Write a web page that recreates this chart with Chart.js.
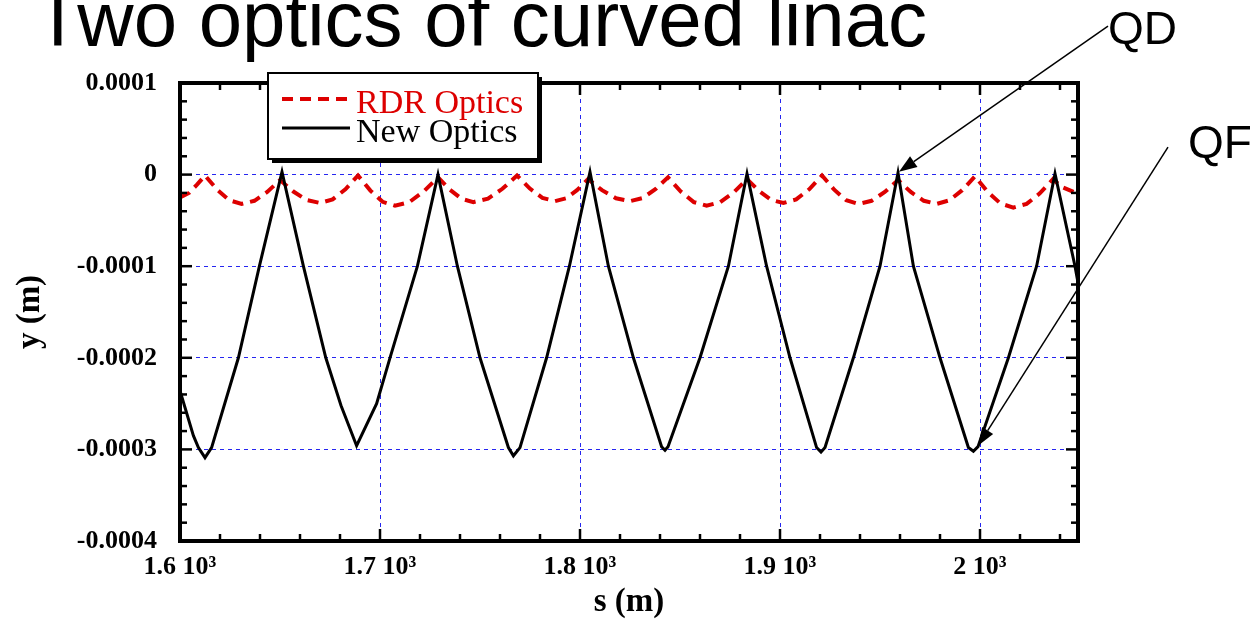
<!DOCTYPE html>
<html>
<head>
<meta charset="utf-8">
<script src="https://cdn.jsdelivr.net/npm/chart.js@4.4.1/dist/chart.umd.min.js"></script>
<style>
html,body{margin:0;padding:0;background:#fff}
#wrap{width:1260px;height:621px;position:relative}
</style>
</head>
<body>
<div id="wrap"><canvas id="chart"></canvas></div>
<script>
// s in metres, y in micrometres (axis labelled in metres)
const newS = [1600, 1606.7, 1609.2, 1612.5, 1615.8, 1629.2, 1639.7, 1651,
  1661.7, 1672.9, 1680.5, 1688.3,
  1698.3, 1705, 1718.7, 1729,
  1738.7, 1750, 1764.2, 1766.7,
  1770, 1783.3, 1794.7, 1805,
  1814.2, 1826.7, 1840.8, 1842.5,
  1844, 1860, 1874.2, 1883.5,
  1893.3, 1905, 1918.3, 1920.5,
  1922.5, 1936.7, 1950, 1959,
  1966.7, 1980, 1994.2, 1996.7,
  1999, 2014.2, 2028.3, 2037.5,
  2047.5, 2049]
const newY = [-236, -285, -298, -309, -298, -200, -100, 3,
  -100, -200, -252, -296,
  -250, -200, -100, 0,
  -100, -200, -298, -307,
  -298, -200, -100, 3,
  -100, -200, -297, -301,
  -297, -200, -100, 1,
  -100, -200, -298, -303,
  -298, -200, -100, 2,
  -100, -200, -298, -302,
  -297, -200, -100, 1,
  -100, -118]

const rdrS = [1600, 1604.5, 1608.5, 1612.5, 1618.6, 1624.7, 1630.8, 1637.2, 1643.6, 1650,
  1656.7, 1663.3, 1670, 1676.3, 1682.7, 1689, 1695.2, 1701.3, 1707.5, 1714.7, 1721.8, 1729,
  1734.9, 1740.8, 1746.7, 1754, 1761.2, 1768.5, 1774.8, 1781.2, 1787.5, 1793, 1798.5, 1804,
  1811, 1818, 1825, 1831.3, 1837.7, 1844, 1850.4, 1856.9, 1863.3, 1870, 1876.8, 1883.5,
  1889.6, 1895.6, 1901.7, 1908.1, 1914.6, 1921, 1927.1, 1933.1, 1939.2, 1945.8, 1952.4, 1959,
  1965.4, 1971.9, 1978.3, 1984.7, 1991.1, 1997.5, 2003.9, 2010.3, 2016.7, 2023.3, 2029.9, 2036.5,
  2040.5, 2049]
const rdrY = [-25, -20, -11, -1, -16.5, -28, -32, -28.6, -19, -6,
  -18.5, -27.8, -31, -27.1, -16, -1, -17.5, -29.7, -34, -30, -18.5, -3,
  -16.5, -26.5, -30, -26.2, -15.5, -1, -15, -25.4, -29, -25.9, -17, -5,
  -17, -25.9, -29, -25.6, -16, -3, -18.5, -30, -34, -30.2, -19.5, -5,
  -18, -27.6, -31, -27.1, -16, -1, -16.5, -28, -32, -28.6, -19, -6,
  -19, -28.6, -32, -28.1, -17, -2, -19, -31.6, -36, -32, -20.5, -5,
  -13, -21]

const xTickVals = [1600, 1700, 1800, 1900, 2000]
const xTickLabels = ['1.6 10³', '1.7 10³', '1.8 10³', '1.9 10³', '2 10³']
const yTickVals = [100, 0, -100, -200, -300, -400]
const yTickLabels = ['0.0001', '0', '-0.0001', '-0.0002', '-0.0003', '-0.0004']

const seriesNames = ['RDR Optics', 'New Optics']
const titleText = 'Two optics of curved linac'

// arrows, in data units (s, micrometres)
const notes = [
  {text: 'QD', tail: [2064, 162], tip: [1959.5, 3], label: [2064, 143]},
  {text: 'QF', tail: [2094, 30], tip: [1999, -296], label: [2104, 18]}
]

const pts = (xs, ys) => xs.map((s, i) => ({x: s, y: ys[i]}))
const serif = '"Liberation Serif", "Times New Roman", serif'

const deco = {
  id: 'deco',
  beforeDraw(chart) {
    const ctx = chart.ctx
    ctx.save()
    ctx.fillStyle = '#fff'
    ctx.fillRect(0, 0, chart.width, chart.height)
    ctx.restore()
  },
  afterDatasetsDraw(chart) {
    const {ctx, chartArea: a, scales: {x, y}} = chart
    const seg = (x1, y1, x2, y2) => { ctx.beginPath(); ctx.moveTo(x1, y1); ctx.lineTo(x2, y2); ctx.stroke() }
    ctx.save()
    ctx.strokeStyle = '#000'
    ctx.setLineDash([])
    ctx.lineWidth = 2.5
    for (let s = 1600; s <= x.max; s += 20) {
      const px = x.getPixelForValue(s)
      const len = s % 100 === 0 ? 12 : 7
      seg(px, a.bottom, px, a.bottom - len)
      seg(px, a.top, px, a.top + len)
    }
    for (let v = -400; v <= 100; v += 20) {
      const py = y.getPixelForValue(v)
      const len = v % 100 === 0 ? 12 : 7
      seg(a.left, py, a.left + len, py)
      seg(a.right, py, a.right - len, py)
    }
    ctx.lineWidth = 4
    ctx.strokeRect(a.left, a.top, a.right - a.left, a.bottom - a.top)
    ctx.restore()
  },
  afterDraw(chart) {
    const {ctx, scales: {x, y}} = chart
    ctx.save()

    // title (runs off the top edge)
    ctx.fillStyle = '#000'
    ctx.font = '78px "Liberation Sans", Arial, sans-serif'
    ctx.textBaseline = 'alphabetic'
    ctx.fillText(titleText, 34, 46)

    // legend box with shadow
    ctx.fillStyle = '#000'
    ctx.fillRect(272, 77, 270, 86)
    ctx.fillStyle = '#fff'
    ctx.fillRect(268, 73, 270, 86)
    ctx.strokeStyle = '#000'
    ctx.lineWidth = 2
    ctx.strokeRect(268, 73, 270, 86)
    const rows = [chart.data.datasets[1], chart.data.datasets[0]]
    rows.forEach((ds, i) => {
      const ly = 99 + i * 29
      ctx.strokeStyle = ds.borderColor
      ctx.lineWidth = ds.borderWidth
      ctx.setLineDash(ds.borderDash || [])
      ctx.beginPath(); ctx.moveTo(282, ly); ctx.lineTo(350, ly); ctx.stroke()
      ctx.setLineDash([])
      ctx.fillStyle = ds.borderColor
      ctx.font = '34px ' + serif
      ctx.fillText(ds.label, 356, ly + 14)
    })

    // QD / QF arrows
    ctx.strokeStyle = '#000'
    ctx.fillStyle = '#000'
    ctx.lineWidth = 1.5
    notes.forEach(n => {
      const tx = x.getPixelForValue(n.tail[0]), ty = y.getPixelForValue(n.tail[1])
      const hx = x.getPixelForValue(n.tip[0]), hy = y.getPixelForValue(n.tip[1])
      const ang = Math.atan2(hy - ty, hx - tx)
      const L = 18, W = 6.5
      const bx = hx - L * Math.cos(ang), by = hy - L * Math.sin(ang)
      ctx.beginPath(); ctx.moveTo(tx, ty); ctx.lineTo(bx, by); ctx.stroke()
      ctx.beginPath()
      ctx.moveTo(hx, hy)
      ctx.lineTo(bx + W * Math.sin(ang), by - W * Math.cos(ang))
      ctx.lineTo(bx - W * Math.sin(ang), by + W * Math.cos(ang))
      ctx.closePath(); ctx.fill()
      ctx.font = '46px "Liberation Sans", Arial, sans-serif'
      ctx.fillText(n.text, x.getPixelForValue(n.label[0]), y.getPixelForValue(n.label[1]))
    })
    ctx.restore()
  }
}

new Chart(document.getElementById('chart'), {
  type: 'line',
  data: {
    datasets: [
      {
        label: seriesNames[1],
        data: pts(newS, newY),
        borderColor: '#000000',
        borderWidth: 3,
        pointRadius: 0,
        tension: 0,
        fill: false
      },
      {
        label: seriesNames[0],
        data: pts(rdrS, rdrY),
        borderColor: '#dd0000',
        borderWidth: 4,
        borderDash: [11, 7],
        pointRadius: 0,
        tension: 0,
        fill: false
      }
    ]
  },
  options: {
    responsive: true,
    maintainAspectRatio: false,
    animation: false,
    events: [],
    layout: {padding: {left: 0, top: 83, right: 182, bottom: 0}},
    plugins: {legend: {display: false}, tooltip: {enabled: false}},
    scales: {
      x: {
        type: 'linear',
        min: 1600,
        max: 2049,
        afterFit: s => { s.height = 80 },
        ticks: {
          stepSize: 100,
          includeBounds: false,
          autoSkip: false,
          maxRotation: 0,
          padding: 11,
          color: '#000',
          font: {family: serif, size: 26, weight: 'bold'},
          callback: v => xTickLabels[xTickVals.indexOf(v)] ?? ''
        },
        grid: {color: '#2626f0', lineWidth: 1, drawTicks: false},
        border: {display: false, dash: [4, 4]},
        title: {
          display: true,
          text: 's (m)',
          color: '#000',
          font: {family: serif, size: 33, weight: 'bold', lineHeight: 1},
          padding: {top: 0, bottom: 2}
        }
      },
      y: {
        type: 'linear',
        min: -400,
        max: 100,
        afterFit: s => { s.width = 180 },
        ticks: {
          stepSize: 100,
          autoSkip: false,
          padding: 23,
          color: '#000',
          font: {family: serif, size: 26, weight: 'bold'},
          callback: v => yTickLabels[yTickVals.indexOf(v)] ?? ''
        },
        grid: {color: '#2626f0', lineWidth: 1, drawTicks: false},
        border: {display: false, dash: [4, 4]},
        title: {
          display: true,
          text: 'y (m)',
          color: '#000',
          font: {family: serif, size: 33, weight: 'bold', lineHeight: 1},
          padding: {top: 14, bottom: 0}
        }
      }
    }
  },
  plugins: [deco]
})
</script>
</body>
</html>
